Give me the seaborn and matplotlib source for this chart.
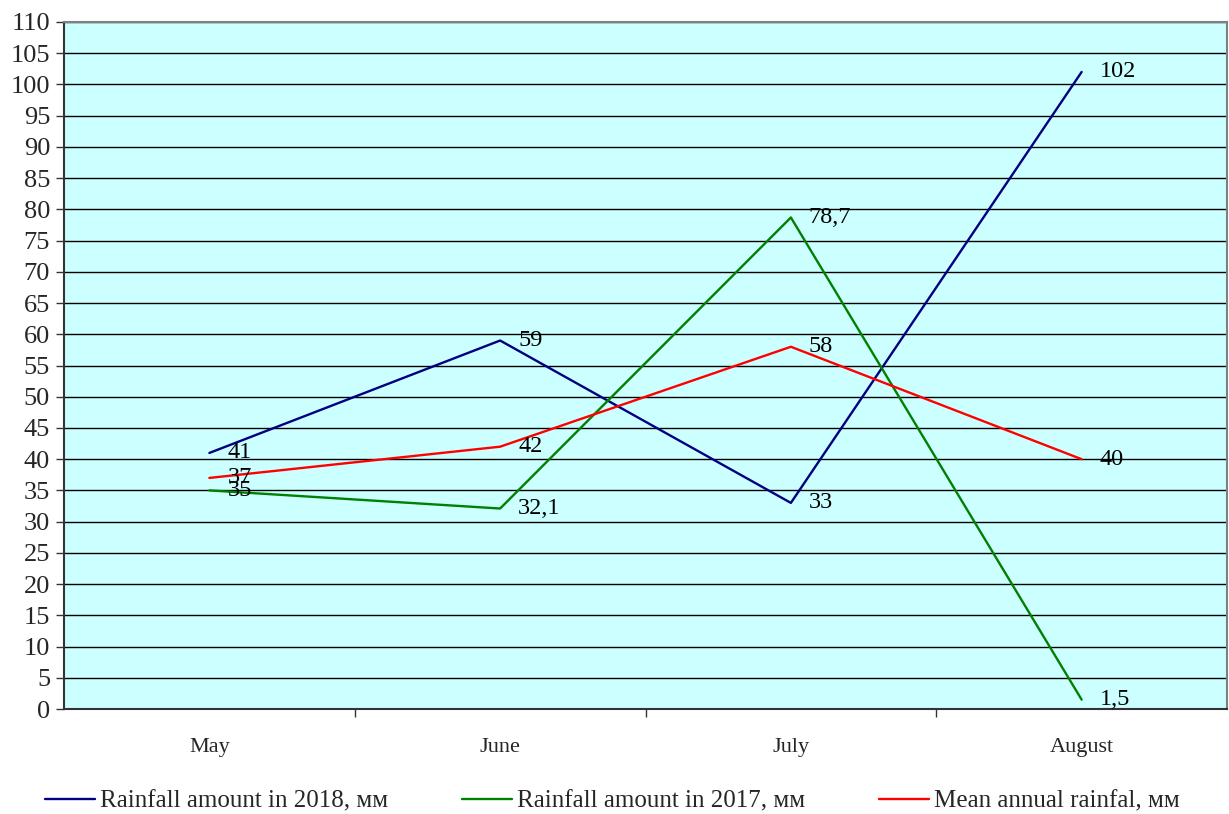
import matplotlib
matplotlib.use("Agg")
import matplotlib.pyplot as plt
from matplotlib.ticker import FixedLocator, MultipleLocator
import seaborn as sns
import pandas as pd

months = ["May", "June", "July", "August"]
rain_2018 = [41, 59, 33, 102]
rain_2017 = [35, 32.1, 78.7, 1.5]
mean_annual = [37, 42, 58, 40]
label_2018 = ["41", "59", "33", "102"]
label_2017 = ["35", "32,1", "78,7", "1,5"]
label_mean = ["37", "42", "58", "40"]
series_names = ["Rainfall amount in 2018, мм",
                "Rainfall amount in 2017, мм",
                "Mean annual rainfal, мм"]
colors = ["#000080", "#008000", "#FF0000"]

sns.set_style("white")
plt.rcParams["font.family"] = ["Liberation Serif", "DejaVu Serif"]

rows = []
for name, vals in zip(series_names, [rain_2018, rain_2017, mean_annual]):
    for i, (m, v) in enumerate(zip(months, vals)):
        rows.append({"pos": i, "month": m, "value": v, "series": name})
df = pd.DataFrame(rows)

fig = plt.figure(figsize=(12.29, 8.14), dpi=100)
ax = fig.add_axes([64 / 1229, 105 / 814, 1163 / 1229, 687 / 814])
ax.set_facecolor("#CCFFFF")

sns.lineplot(data=df, x="pos", y="value", hue="series", hue_order=series_names,
             palette=colors, linewidth=1.7, ax=ax, legend=True, zorder=3)

for vals, labs in zip([rain_2018, rain_2017, mean_annual], [label_2018, label_2017, label_mean]):
    for i, (v, t) in enumerate(zip(vals, labs)):
        ax.annotate(t, xy=(i, v), xytext=(18, 0), textcoords="offset pixels",
                    ha="left", va="center", fontsize=17.5, color="black", zorder=4)

ax.set_xlim(-0.5, 3.5)
ax.set_ylim(0, 110)
ax.yaxis.set_major_locator(MultipleLocator(5))
ax.grid(axis="y", color="black", linewidth=1.0)
ax.set_axisbelow(True)

ax.xaxis.set_major_locator(FixedLocator(range(len(months))))
ax.set_xticklabels(months)
ax.xaxis.set_minor_locator(FixedLocator([0.5, 1.5, 2.5]))
ax.tick_params(axis="x", which="major", length=0, pad=21, labelsize=16)
ax.tick_params(axis="x", which="minor", length=6, width=1, color="#333333", direction="out", bottom=True)
ax.tick_params(axis="y", which="major", length=6, width=1, color="#333333", direction="out", left=True,
               labelsize=19, pad=4)
ax.set_xlabel("")
ax.set_ylabel("")

for side in ["left", "bottom"]:
    ax.spines[side].set_color("#333333")
    ax.spines[side].set_linewidth(1.5)
for side in ["top", "right"]:
    ax.spines[side].set_color("#808080")
    ax.spines[side].set_linewidth(1.5)

handles, labels = ax.get_legend_handles_labels()
ax.get_legend().remove()
fig.legend(handles, labels, loc="center left", bbox_to_anchor=(45 / 1229, 1 - 801 / 814),
           ncol=3, frameon=False, fontsize=18, handlelength=2.0, handletextpad=0.2,
           columnspacing=2.95, borderaxespad=0, borderpad=0)

fig.savefig("out.png", dpi=100)
